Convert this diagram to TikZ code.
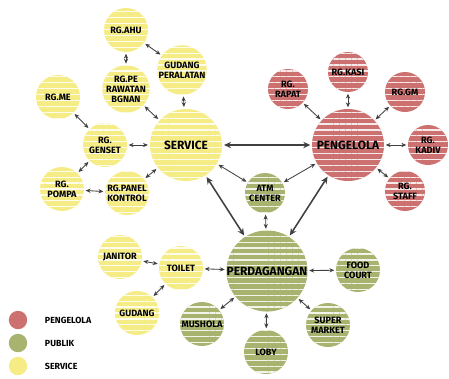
\documentclass[tikz,border=0pt]{standalone}
\usepackage{fontspec}
\setmainfont{Fira Sans}
\usetikzlibrary{arrows.meta,patterns.meta,positioning}

\definecolor{kelola}{RGB}{204,112,112}
\definecolor{publik}{RGB}{167,179,110}
\definecolor{servis}{RGB}{246,236,133}

\tikzset{
  ruang/.style={circle,inner sep=0pt,align=center,minimum size=1.1cm,
    font=\bfseries\fontsize{6.5}{7}\selectfont,
    preaction={fill=#1},
    pattern={Lines[angle=0,distance=4.2pt,line width=.9pt]},
    pattern color=white!85!#1},
  besar/.style={minimum size=1.8cm,font=\bfseries\fontsize{8.5}{9}\selectfont},
  kelolakecil/.style={minimum size=1cm},
  hub/.style={<->,>={Stealth[length=3.5pt,width=3pt]},draw=black!75,
    line width=.6pt,shorten <=1pt,shorten >=1pt},
  utama/.style={hub,line width=1.1pt,>={Stealth[length=5pt,width=4.5pt]}},
  ket/.style={anchor=west,font=\bfseries\fontsize{6.3}{7}\selectfont}
}

\begin{document}
\begin{tikzpicture}[x=0.025cm,y=-0.025cm]
\useasboundingbox (0,0) rectangle (449,378);

  % service
  \node[ruang=servis,besar]   (srv)  at (186,145) {SERVICE};
  \node[ruang=servis]         (ahu)  at (126,30)  {RG.AHU};
  \node[ruang=servis]         (gdp)  at (182,70)  {GUDANG\\PERALATAN};
  \node[ruang=servis]         (prw)  at (126,89)  {RG.PE\\RAWATAN\\BGNAN};
  \node[ruang=servis]         (me)   at (58,97)   {RG.ME};
  \node[ruang=servis]         (gen)  at (105,145) {RG.\\GENSET};
  \node[ruang=servis]         (pom)  at (62,189)  {RG.\\POMPA};
  \node[ruang=servis]         (pnl)  at (127,193) {RG.PANEL\\KONTROL};

  % pengelola
  \node[ruang=kelola,besar]        (pgl)  at (348,145) {PENGELOLA};
  \node[ruang=kelola,kelolakecil]  (rpt)  at (288,89)  {RG.\\RAPAT};
  \node[ruang=kelola,kelolakecil]  (kas)  at (348,72)  {RG.KASI};
  \node[ruang=kelola,kelolakecil]  (gm)   at (405,92)  {RG.GM};
  \node[ruang=kelola,kelolakecil]  (kdv)  at (428,145) {RG.\\KADIV};
  \node[ruang=kelola,kelolakecil]  (stf)  at (405,191) {RG.\\STAFF};

  % publik
  \node[ruang=publik,kelolakecil]  (atm)  at (265,193) {ATM\\CENTER};
  \node[ruang=publik,besar,minimum size=1.95cm] (pdg) at (267,271) {PERDAGANGAN};
  \node[ruang=publik]         (fc)   at (358,270) {FOOD\\COURT};
  \node[ruang=publik]         (spm)  at (328,325) {SUPER\\MARKET};
  \node[ruang=publik]         (lby)  at (266,352) {LOBY};
  \node[ruang=publik]         (msh)  at (202,324) {MUSHOLA};
  \node[ruang=servis]         (tlt)  at (181,268) {TOILET};
  \node[ruang=servis]         (jnt)  at (120,257) {JANITOR};
  \node[ruang=servis]         (gdg)  at (137,313) {GUDANG};

\path[hub]
     (ahu) edge (gdp)
     (ahu) edge (prw)
     (gdp) edge (srv)
     (prw) edge (srv)
     (me)  edge (gen)
     (gen) edge (srv)
     (gen) edge (pom)
     (pom) edge (pnl)
     (pnl) edge (srv)
     (rpt) edge (pgl)
     (kas) edge (pgl)
     (gm)  edge (pgl)
     (kdv) edge (pgl)
     (stf) edge (pgl)
     (srv) edge (atm)
     (atm) edge (pgl)
     (atm) edge (pdg)
     (pdg) edge (fc)
     (pdg) edge (spm)
     (pdg) edge (lby)
     (pdg) edge (msh)
     (pdg) edge (tlt)
     (tlt) edge (jnt)
     (tlt) edge (gdg)
  ;
\path[utama]
     (srv) edge (pgl)
     (srv) edge (pdg)
     (pgl) edge (pdg)
  ;

  % keterangan
  \node[circle,fill=kelola,minimum size=0.46cm] (k1) at (18,320) {};
  \node[circle,fill=publik,minimum size=0.46cm] (k2) at (18,343) {};
  \node[circle,fill=servis,minimum size=0.46cm] (k3) at (18,366) {};
  \node[ket] at (40,320) {PENGELOLA};
  \node[ket] at (40,343) {PUBLIK};
  \node[ket] at (40,366) {SERVICE};
\end{tikzpicture}
\end{document}
